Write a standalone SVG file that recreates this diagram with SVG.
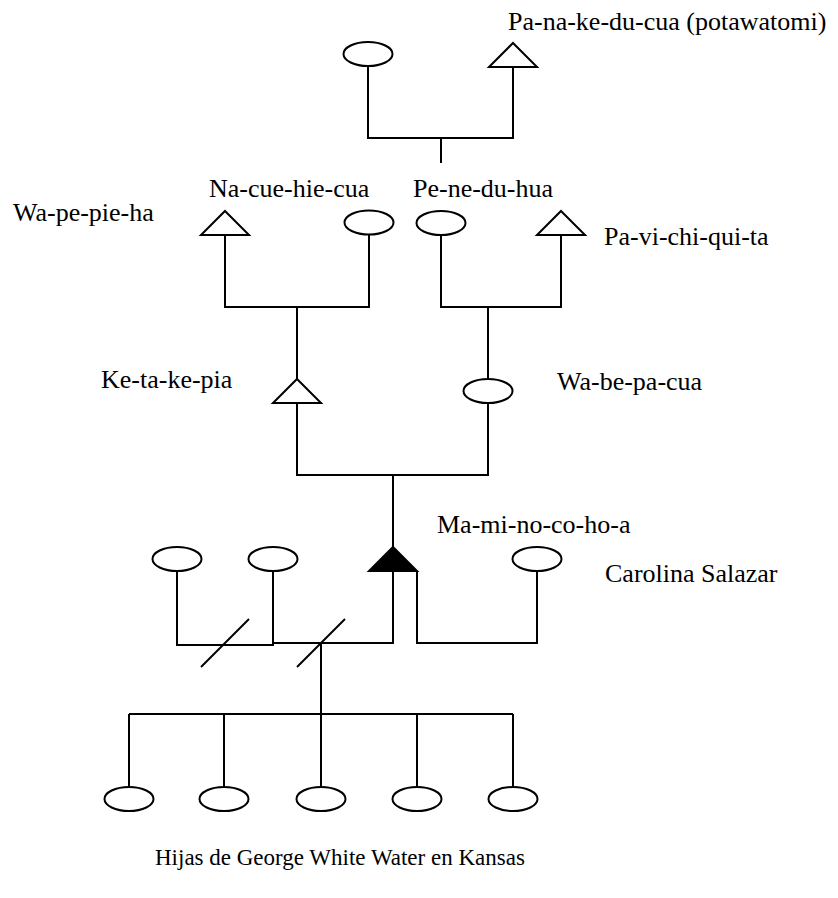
<svg xmlns="http://www.w3.org/2000/svg" width="838" height="898" viewBox="0 0 838 898">
  <style>
    .bg { fill: #ffffff; }
    .line { fill: none; stroke: #000; stroke-width: 2; stroke-linecap: butt; stroke-linejoin: miter; }
    .female { fill: #ffffff; stroke: #000; stroke-width: 2; }
    .male { fill: #ffffff; stroke: #000; stroke-width: 2; stroke-linejoin: miter; }
    .ego { fill: #000; stroke: #000; stroke-width: 2; stroke-linejoin: miter; }
    .label { font-family: "Liberation Serif", "Times New Roman", serif; font-size: 26px; fill: #000; }
    .caption { font-size: 23px; }
  </style>
  <defs>
    <ellipse id="fem" cx="0" cy="0" rx="24.5" ry="12"/>
    <polygon id="mal" points="0,-12 24,12 -24,12"/>
  </defs>
  <rect class="bg" x="0" y="0" width="838" height="898"/>

  <!-- kinship connectors -->
  <g id="connectors" class="line">
    <!-- grandparents of Wa-be-pa-cua -->
    <polyline points="368,66 368,138 513,138 513,67"/>
    <line x1="441" y1="138" x2="441" y2="163"/>
    <!-- parents of Ke-ta-ke-pia -->
    <polyline points="225,235 225,307 369,307 369,234"/>
    <line x1="297" y1="307" x2="297" y2="379"/>
    <!-- parents of Wa-be-pa-cua -->
    <polyline points="441,235 441,307 561,307 561,235"/>
    <line x1="488" y1="307" x2="488" y2="379"/>
    <!-- parents of Ma-mi-no-co-ho-a -->
    <polyline points="297,403 297,475 488,475 488,403"/>
    <line x1="393" y1="475" x2="393" y2="547"/>
    <!-- marriages of Ma-mi-no-co-ho-a -->
    <polyline points="177,571 177,645 273,645 273,571"/>
    <polyline points="273,643 393,643 393,571"/>
    <polyline points="417,571 417,643 537,643 537,571"/>
    <!-- divorce marks -->
    <line x1="201" y1="667" x2="249" y2="619"/>
    <line x1="297" y1="667" x2="345" y2="619"/>
    <!-- daughters -->
    <line x1="321" y1="643" x2="321" y2="714"/>
    <line x1="129" y1="714" x2="513" y2="714"/>
    <line x1="129" y1="714" x2="129" y2="787"/>
    <line x1="224" y1="714" x2="224" y2="787"/>
    <line x1="321" y1="714" x2="321" y2="787"/>
    <line x1="417" y1="714" x2="417" y2="787"/>
    <line x1="513" y1="714" x2="513" y2="787"/>
  </g>

  <!-- people -->
  <g id="gm-top"><use href="#fem" class="female" x="368" y="54"/></g>
  <g id="panakeducua"><use href="#mal" class="male" x="513" y="55"/>
    <text class="label" x="508" y="30">Pa-na-ke-du-cua (potawatomi)</text></g>

  <g id="wapepieha"><use href="#mal" class="male" x="225" y="223"/>
    <text class="label" x="13" y="221">Wa-pe-pie-ha</text></g>
  <g id="nacuehiecua"><use href="#fem" class="female" x="369" y="222.5"/>
    <text class="label" x="209" y="197">Na-cue-hie-cua</text></g>
  <g id="peneduhua"><use href="#fem" class="female" x="441" y="223"/>
    <text class="label" x="413" y="197">Pe-ne-du-hua</text></g>
  <g id="pavichiquita"><use href="#mal" class="male" x="561" y="223"/>
    <text class="label" x="604" y="245">Pa-vi-chi-qui-ta</text></g>

  <g id="ketakepia"><use href="#mal" class="male" x="297" y="391"/>
    <text class="label" x="101" y="388">Ke-ta-ke-pia</text></g>
  <g id="wabepacua"><use href="#fem" class="female" x="488" y="391"/>
    <text class="label" x="557" y="390">Wa-be-pa-cua</text></g>

  <g id="maminocohoa"><use href="#mal" class="ego" x="393" y="559"/>
    <text class="label" x="437" y="533">Ma-mi-no-co-ho-a</text></g>
  <g id="wife1"><use href="#fem" class="female" x="177" y="559"/></g>
  <g id="wife2"><use href="#fem" class="female" x="273" y="559"/></g>
  <g id="carolina"><use href="#fem" class="female" x="537" y="559"/>
    <text class="label" x="605" y="582">Carolina Salazar</text></g>

  <g id="daughter1"><use href="#fem" class="female" x="129" y="799"/></g>
  <g id="daughter2"><use href="#fem" class="female" x="224" y="799"/></g>
  <g id="daughter3"><use href="#fem" class="female" x="321" y="799"/></g>
  <g id="daughter4"><use href="#fem" class="female" x="417" y="799"/></g>
  <g id="daughter5"><use href="#fem" class="female" x="513" y="799"/></g>
  <g id="caption"><text class="label caption" x="155" y="865">Hijas de George White Water en Kansas</text></g>
</svg>
